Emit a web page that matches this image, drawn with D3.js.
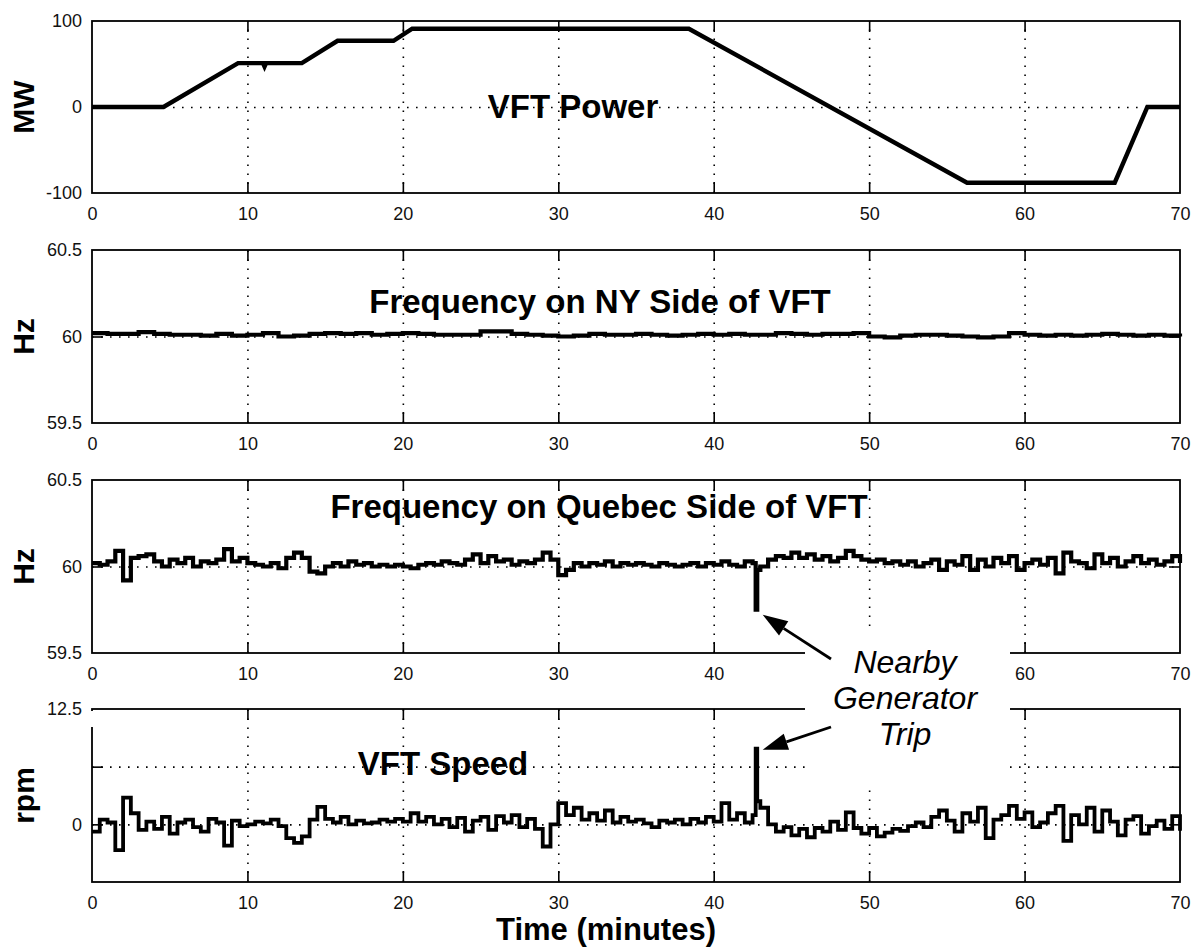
<!DOCTYPE html>
<html><head><meta charset="utf-8">
<script src="https://cdn.jsdelivr.net/npm/d3@7"></script>
<style>html,body{margin:0;padding:0;background:#fff;} svg{display:block;}</style>
</head><body><svg id="chart" width="1192" height="947"></svg>
<script>
// ---------------- DATA ----------------
const timeTicks = [0, 10, 20, 30, 40, 50, 60, 70];
const timeTickLabels = ["0", "10", "20", "30", "40", "50", "60", "70"];
// in the Quebec panel the "50" label is hidden behind the annotation
const quebecTimeTickLabels = ["0", "10", "20", "30", "40", "", "60", "70"];

// VFT Power (MW) – breakpoints
const powerTime = [0, 4.6, 9.4, 11, 11.1, 11.2, 13.5, 15.8, 19.4, 20.6, 38.4, 56.3, 65.8, 67.9, 70];
const powerMW   = [0, 0,   51,  51, 47,   51,   51,   77,   77,   91,   91,   -88,  -88,  0,    0];

// Frequency on NY side (Hz), one sample per minute
const nySampleStep = 1;
const nyHz = [60.02,60.015,60.015,60.025,60.015,60.01,60.01,60.005,60.015,60.005,
  60.01,60.02,60.0,60.005,60.015,60.02,60.015,60.02,60.01,60.015,
  60.02,60.015,60.01,60.01,60.01,60.03,60.03,60.015,60.01,60.005,
  60.0,60.005,60.015,60.01,60.01,60.015,60.01,60.005,60.01,60.015,
  60.01,60.015,60.01,60.01,60.02,60.015,60.01,60.015,60.015,60.02,
  60.0,59.995,60.005,60.01,60.01,60.005,60.0,59.995,60.0,60.02,
  60.01,60.005,60.01,60.005,60.01,60.015,60.01,60.005,60.01,60.005,60.0];

// Frequency on Quebec side (Hz), one sample per half minute
const qcSampleStep = 0.5;
const quebecHz = [60.02,60.01,60.03,60.09,59.92,60.05,60.06,60.07,60.03,60.0,
  60.04,60.02,60.05,60.0,60.03,60.02,60.04,60.1,60.03,60.05,
  60.02,60.01,60.0,60.02,59.99,60.05,60.08,60.05,59.97,59.96,
  60.0,60.02,60.0,60.03,60.01,60.02,60.0,60.01,60.0,60.01,
  60.0,59.99,60.01,60.02,60.01,60.03,60.02,60.01,60.04,60.07,
  60.02,60.06,60.03,60.04,60.01,60.03,60.02,60.04,60.08,60.04,
  59.95,59.98,60.02,60.0,60.02,60.01,60.03,60.0,60.02,60.01,
  60.02,60.01,60.0,60.02,60.01,60.0,60.01,60.02,60.0,60.02,
  60.01,60.03,60.01,60.0,60.03,60.02,60.0,60.04,60.06,60.05,
  60.08,60.05,60.07,60.04,60.06,60.03,60.05,60.09,60.06,60.04,
  60.03,60.04,60.02,60.03,60.01,60.03,60.0,60.02,60.04,59.98,
  60.03,60.01,60.06,59.98,60.04,60.0,60.05,60.02,60.06,59.98,
  60.02,60.04,60.01,60.05,59.96,60.08,60.03,60.02,59.99,60.07,
  60.02,60.05,60.0,60.03,60.06,60.02,60.04,60.01,60.03,60.06,60.02];

// VFT Speed (rpm), one sample per half minute
const speedSampleStep = 0.5;
const speedRpm = [-0.8,0.5,0.2,-2.8,2.9,1.2,-0.6,0.3,-0.5,0.8,
  -1.0,0.2,0.5,-0.3,-0.8,0.6,0.2,-2.3,0.4,-0.2,
  0.0,0.3,0.1,0.5,-0.2,-1.5,-2.0,-1.3,0.5,1.9,
  0.6,0.2,0.8,0.0,0.4,0.1,0.2,0.5,0.3,0.6,
  0.3,1.2,0.3,0.8,0.0,0.6,-0.3,0.7,-0.8,0.4,
  0.8,-0.6,0.9,0.2,1.0,-0.3,0.6,-0.5,-2.4,0.0,
  2.3,1.0,1.8,0.5,1.2,0.4,1.5,0.2,0.8,0.3,
  0.5,0.1,-0.3,0.4,0.2,0.5,0.0,0.6,0.2,0.8,
  0.3,2.3,0.5,1.2,0.2,1.0,1.8,0.0,-0.8,-0.3,
  -1.2,-0.5,-1.4,-0.4,-0.8,0.3,-0.6,1.3,-0.4,-1.0,
  -0.4,-1.3,-0.9,-0.5,-0.7,-0.2,0.2,-0.3,0.8,1.5,
  0.4,-0.8,1.2,0.3,1.8,-1.5,0.5,1.0,2.0,0.6,
  1.3,-0.3,0.2,1.2,2.0,-1.8,1.0,0.0,1.8,-0.8,
  1.5,0.3,-1.2,0.5,0.9,-1.0,-0.2,0.4,-0.5,0.9,-0.7];

// Generator trip event
const tripTimes = [42.7, 42.8];
const quebecTripHz = [59.75, 59.98];
const speedTripRpm = [8.2, 2.5];

const powerTicks = [-100, 0, 100];
const powerTickLabels = ["-100", "0", "100"];
const freqTicks = [59.5, 60, 60.5];
const freqTickLabels = ["59.5", "60", "60.5"];
const speedTicks = [-6.25, 0, 6.25, 12.5];
const speedTickLabels = ["", "0", "", "12.5"];

const panelTitles = ["VFT Power", "Frequency on NY Side of VFT", "Frequency on Quebec Side of VFT", "VFT Speed"];
const yAxisTitles = ["MW", "Hz", "Hz", "rpm"];
const xAxisTitle = "Time (minutes)";
const annotationLines = ["Nearby", "Generator", "Trip"];

// ---------------- BUILD ----------------
const svg = d3.select("#chart");
const L = 92, R = 1180;
const x = d3.scaleLinear().domain([0, 70]).range([L, R]);

function samples(step, vals) { return vals.map((v, i) => [i * step, v]); }
function withEvent(pts, times, vals) {
  return pts.concat(times.map((t, i) => [t, vals[i]])).sort((a, b) => a[0] - b[0]);
}

const panels = [
  { top: 21, bottom: 193, domain: [-100, 100], ticks: powerTicks, labels: powerTickLabels, xlabels: timeTickLabels,
    data: powerTime.map((t, i) => [t, powerMW[i]]), curve: d3.curveLinear, sw: 4.4,
    title: panelTitles[0], tx: 573, ty: 118, ylab: yAxisTitles[0] },
  { top: 250, bottom: 423, domain: [59.5, 60.5], ticks: freqTicks, labels: freqTickLabels, xlabels: timeTickLabels,
    data: samples(nySampleStep, nyHz), curve: d3.curveStepAfter, sw: 4.2,
    title: panelTitles[1], tx: 600, ty: 313, ylab: yAxisTitles[1] },
  { top: 480, bottom: 653, domain: [59.5, 60.5], ticks: freqTicks, labels: freqTickLabels, xlabels: quebecTimeTickLabels,
    data: withEvent(samples(qcSampleStep, quebecHz), tripTimes, quebecTripHz), curve: d3.curveStepAfter, sw: 4.2,
    title: panelTitles[2], tx: 599, ty: 518, ylab: yAxisTitles[2] },
  { top: 709, bottom: 882, domain: [-6.25, 12.5], ticks: speedTicks, labels: speedTickLabels, xlabels: timeTickLabels,
    data: withEvent(samples(speedSampleStep, speedRpm), tripTimes, speedTripRpm), curve: d3.curveStepAfter, sw: 3.8,
    title: panelTitles[3], tx: 443, ty: 775, ylab: yAxisTitles[3] }
];

const tickFont = "'Liberation Sans', Arial, sans-serif";
const scales = [];

panels.forEach((p, k) => {
  const y = d3.scaleLinear().domain(p.domain).range([p.bottom, p.top]);
  scales.push(y);
  const g = svg.append("g");
  const h = p.bottom - p.top, w = R - L;
  const innerX = timeTicks.filter(t => t > 0 && t < 70);
  const innerY = p.ticks.filter(v => v > p.domain[0] && v < p.domain[1]);

  // dotted grid
  g.append("g").attr("transform", `translate(0,${p.bottom})`)
    .call(d3.axisBottom(x).tickValues(innerX).tickSize(-h).tickFormat(""))
    .call(a => a.select(".domain").remove())
    .selectAll("line").attr("stroke", "#000").attr("stroke-width", 1.6).attr("stroke-dasharray", "1.6,7.4");
  g.append("g").attr("transform", `translate(${L},0)`)
    .call(d3.axisLeft(y).tickValues(innerY).tickSize(-w).tickFormat(""))
    .call(a => a.select(".domain").remove())
    .selectAll("line").attr("stroke", "#000").attr("stroke-width", 1.6).attr("stroke-dasharray", "1.6,7.4");

  // data line
  g.append("path").datum(p.data)
    .attr("fill", "none").attr("stroke", "#000").attr("stroke-width", p.sw)
    .attr("stroke-linejoin", "miter")
    .attr("d", d3.line().x(d => x(d[0])).y(d => y(d[1])).curve(p.curve));

  // inward ticks
  const tickStyle = a => { a.select(".domain").remove(); a.selectAll("line").attr("stroke", "#000").attr("stroke-width", 1.6); };
  g.append("g").attr("transform", `translate(0,${p.bottom})`)
    .call(d3.axisTop(x).tickValues(innerX).tickSize(11).tickFormat("")).call(tickStyle);
  g.append("g").attr("transform", `translate(0,${p.top})`)
    .call(d3.axisBottom(x).tickValues(innerX).tickSize(11).tickFormat("")).call(tickStyle);
  g.append("g").attr("transform", `translate(${L},0)`)
    .call(d3.axisRight(y).tickValues(innerY).tickSize(11).tickFormat("")).call(tickStyle);
  g.append("g").attr("transform", `translate(${R},0)`)
    .call(d3.axisLeft(y).tickValues(innerY).tickSize(11).tickFormat("")).call(tickStyle);

  // border
  g.append("rect").attr("x", L).attr("y", p.top).attr("width", w).attr("height", h)
    .attr("fill", "none").attr("stroke", "#000").attr("stroke-width", 1.8);

  // tick labels
  const xl = g.append("g").attr("transform", `translate(0,${p.bottom})`)
    .call(d3.axisBottom(x).tickValues(timeTicks).tickSize(0).tickPadding(14)
      .tickFormat((d, i) => p.xlabels[i]));
  xl.select(".domain").remove();
  xl.selectAll("text").attr("font-family", tickFont).attr("font-size", 18).attr("fill", "#111");
  const yl = g.append("g").attr("transform", `translate(${L},0)`)
    .call(d3.axisLeft(y).tickValues(p.ticks).tickSize(0).tickPadding(10)
      .tickFormat((d, i) => p.labels[i]));
  yl.select(".domain").remove();
  yl.selectAll("text").attr("font-family", tickFont).attr("font-size", 18).attr("fill", "#111");

  // panel title
  g.append("text").attr("x", p.tx).attr("y", p.ty).attr("text-anchor", "middle")
    .attr("font-family", tickFont).attr("font-weight", "bold").attr("font-size", 33)
    .text(p.title);
  // y axis title
  g.append("text").attr("transform", `translate(34,${(p.top + p.bottom) / 2}) rotate(-90)`)
    .attr("text-anchor", "middle").attr("font-family", tickFont).attr("font-weight", "bold")
    .attr("font-size", 30).text(p.ylab);
});

// gap in the left border of the speed panel
svg.append("rect").attr("x", 88).attr("y", 711).attr("width", 9).attr("height", 16).attr("fill", "#fff");

// x axis title
svg.append("text").attr("x", 606).attr("y", 940).attr("text-anchor", "middle")
  .attr("font-family", tickFont).attr("font-weight", "bold").attr("font-size", 31).text(xAxisTitle);

// annotation
svg.append("rect").attr("x", 805).attr("y", 627).attr("width", 205).attr("height", 156).attr("fill", "#fff");
const ann = svg.append("g").attr("font-family", tickFont).attr("font-style", "italic")
  .attr("font-size", 32).attr("text-anchor", "middle");
annotationLines.forEach((s, i) => ann.append("text").attr("x", 905).attr("y", 673 + i * 36).text(s));

function arrow(x1, y1, x2, y2) {
  const ang = Math.atan2(y2 - y1, x2 - x1), len = 25, hw = 8.5;
  const bx = x2 - len * Math.cos(ang), by = y2 - len * Math.sin(ang);
  const nx = -Math.sin(ang), ny = Math.cos(ang);
  svg.append("line").attr("x1", x1).attr("y1", y1).attr("x2", bx).attr("y2", by)
    .attr("stroke", "#000").attr("stroke-width", 2.8);
  svg.append("path").attr("d", `M${x2},${y2}L${bx + nx * hw},${by + ny * hw}L${bx - nx * hw},${by - ny * hw}Z`)
    .attr("fill", "#000");
}
arrow(831, 659, x(tripTimes[0]) + 7, scales[2](quebecTripHz[0]) + 5);
arrow(831, 727, x(tripTimes[0]) + 7, scales[3](speedTripRpm[0]) + 1);
</script></body></html>
